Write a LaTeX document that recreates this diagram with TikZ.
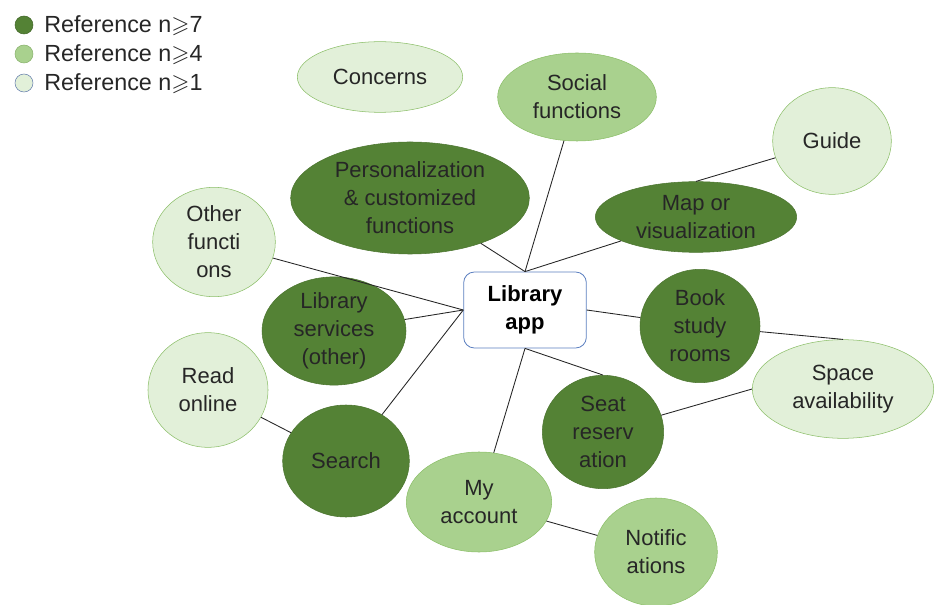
\documentclass[tikz,border=0pt]{standalone}
\usepackage{fontspec}
\usepackage{amssymb}
\setmainfont{Liberation Sans}
\usetikzlibrary{shapes.geometric}

\definecolor{hiGreen}{HTML}{548235}
\definecolor{midGreen}{HTML}{A9D18E}
\definecolor{loGreen}{HTML}{E2F0D9}
\definecolor{rimGreen}{HTML}{8CBF69}
\definecolor{appBlue}{HTML}{5B7FC0}
\definecolor{inkGray}{HTML}{262626}

\tikzset{
  topic/.style={ellipse, inner sep=0pt, align=center, text=inkGray,
    font=\fontsize{16.5}{21}\selectfont},
  refhigh/.style={topic, fill=hiGreen, draw=hiGreen!90!black},
  refmid/.style={topic, fill=midGreen, draw=rimGreen},
  reflow/.style={topic, fill=loGreen, draw=rimGreen},
  link/.style={draw=black!85, line width=0.65pt}
}

\begin{document}
\begin{tikzpicture}[x=0.75pt, y=-0.75pt]
  % keep the page at the size of the reference
  \path[use as bounding box] (0,0) rectangle (934,605);

  % legend
  \foreach \fc/\rc/\n [count=\i] in {hiGreen/hiGreen!80!black/7, midGreen/rimGreen!80!gray/4, loGreen/appBlue!70!gray/1} {
    \node (leg\i) at (24,{25+29*(\i-1)}) [circle, fill=\fc, draw=\rc, minimum size=13.5pt, inner sep=0pt] {};
    \node (legtext\i) at (44,{26+29*(\i-1)}) [anchor=west, inner sep=0pt, text=inkGray,
      font=\fontsize{17.5}{18}\selectfont] {Reference n$\geqslant$\n};
  }

  % centre
  \node (app) at (525,310) [draw=appBlue, fill=white, rounded corners=8pt, line width=0.6pt,
    minimum width=92pt, minimum height=57pt, align=center,
    font=\fontsize{16.5}{21}\selectfont\bfseries] {Library\\app};

  % topics
  \node (concerns) at (380,77)  [reflow, minimum width=124pt, minimum height=53pt] {Concerns};
  \node (social)   at (577,97)  [refmid, minimum width=119pt, minimum height=66pt] {Social\\functions};
  \node (guide)    at (832,141) [reflow, minimum width=89pt, minimum height=80pt] {Guide};
  \node (personal) at (410,198) [refhigh, minimum width=179pt, minimum height=84pt] {Personalization\\\& customized\\functions};
  \node (mapvis)   at (696,217) [refhigh, minimum width=151pt, minimum height=53pt] {Map or\\visualization};
  \node (other)    at (214,242) [reflow, minimum width=92pt, minimum height=82pt] {Other\\functi\\ons};
  \node (services) at (334,331) [refhigh, minimum width=108pt, minimum height=78pt] {Library\\services\\(other)};
  \node (book)     at (700,326) [refhigh, minimum width=90pt, minimum height=85pt] {Book\\study\\rooms};
  \node (readonl)  at (208,390) [reflow, minimum width=90pt, minimum height=86pt] {Read\\online};
  \node (space)    at (843,389) [reflow, minimum width=136pt, minimum height=74pt] {Space\\availability};
  \node (seat)     at (603,432) [refhigh, minimum width=91pt, minimum height=85pt] {Seat\\reserv\\ation};
  \node (search)   at (346,461) [refhigh, minimum width=95pt, minimum height=84pt] {Search};
  \node (account)  at (479,502) [refmid, minimum width=109pt, minimum height=75pt] {My\\account};
  \node (notif)    at (656,552) [refmid, minimum width=92pt, minimum height=81pt] {Notific\\ations};

  % links
  \draw[link] (app.north) -- (social);
  \draw[link] (app.north) -- (personal);
  \draw[link] (app.north) -- (mapvis);
  \draw[link] (app.west) -- (other);
  \draw[link] (app.west) -- (services);
  \draw[link] (app.west) -- (search);
  \draw[link] (app.east) -- (book);
  \draw[link] (app.south) -- (seat.north);
  \draw[link] (app.south) -- (account);
  \draw[link] (mapvis.north) -- (guide);
  \draw[link] (book) -- (space.north);
  \draw[link] (seat) -- (space.west);
  \draw[link] (readonl) -- (search);
  \draw[link] (account) -- (notif);
\end{tikzpicture}
\end{document}
